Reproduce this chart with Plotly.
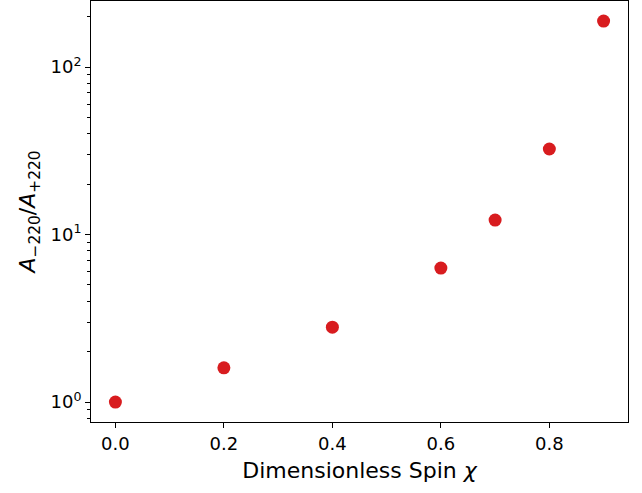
import plotly.graph_objects as go

spin = [0.0, 0.2, 0.4, 0.6, 0.7, 0.8, 0.9]
ratio = [1.0, 1.60, 2.80, 6.31, 12.2, 32.4, 188.0]
ytick_vals = [1, 10, 100]
ytick_text = ["10<sup>0</sup>", "10<sup>1</sup>", "10<sup>2</sup>"]
yminor_vals = [0.8, 0.9, 2, 3, 4, 5, 6, 7, 8, 9, 20, 30, 40, 50, 60, 70, 80, 90, 200]
xtick_vals = [0.0, 0.2, 0.4, 0.6, 0.8]
xtick_text = ["0.0", "0.2", "0.4", "0.6", "0.8"]

fig = go.Figure(go.Scatter(
    x=spin, y=ratio, mode="markers",
    marker=dict(color="#d81c1f", size=13, line=dict(width=0)),
))

font = "DejaVu Sans, sans-serif"
fig.update_layout(
    width=642, height=493,
    margin=dict(l=91, r=14, t=1, b=71),
    plot_bgcolor="white", paper_bgcolor="white",
    showlegend=False,
    font=dict(family=font, size=18, color="black"),
)
fig.update_xaxes(
    range=[-0.045, 0.945],
    tickvals=xtick_vals, ticktext=xtick_text,
    ticks="outside", ticklen=5, tickwidth=1, tickcolor="black",
    showline=True, linecolor="black", linewidth=1, mirror=True,
    showgrid=False, zeroline=False,
    tickfont=dict(size=18),
    title=dict(text="Dimensionless Spin <i>χ</i>", font=dict(size=22), standoff=10),
)
fig.update_yaxes(
    type="log", range=[-0.119, 2.394],
    tickvals=ytick_vals, ticktext=ytick_text,
    ticks="outside", ticklen=5, tickwidth=1, tickcolor="black",
    minor=dict(tickvals=yminor_vals, ticks="outside", ticklen=3, tickcolor="black", tickwidth=1, showgrid=False),
    showline=True, linecolor="black", linewidth=1, mirror=True,
    showgrid=False, zeroline=False,
    tickfont=dict(size=18),
    title=dict(text="<i>A</i><sub>−220</sub>/<i>A</i><sub>+220</sub>", font=dict(size=22), standoff=8),
)
fig.write_html("out.html")
